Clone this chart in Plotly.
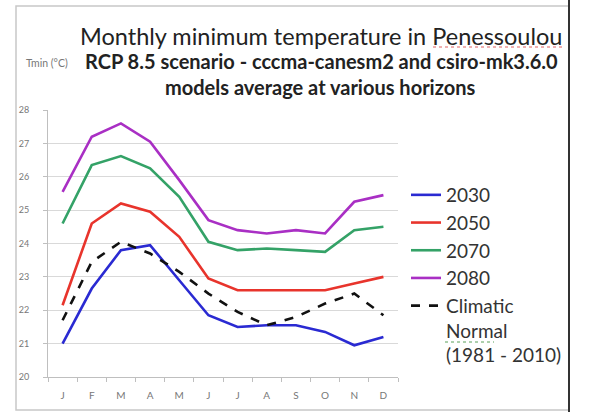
import plotly.graph_objects as go

# monthly minimum temperature (deg C)
months = ["J", "F", "M", "A", "M", "J", "J", "A", "S", "O", "N", "D"]
month_idx = list(range(1, 13))

t2030 = [21.0, 22.65, 23.8, 23.95, 22.9, 21.85, 21.5, 21.55, 21.55, 21.35, 20.95, 21.2]
t2050 = [22.15, 24.6, 25.2, 24.95, 24.2, 22.95, 22.6, 22.6, 22.62, 22.6, 22.8, 23.0]
t2070 = [24.6, 26.35, 26.62, 26.25, 25.4, 24.05, 23.8, 23.85, 23.8, 23.75, 24.4, 24.5]
t2080 = [25.55, 27.2, 27.6, 27.05, 25.9, 24.7, 24.4, 24.3, 24.4, 24.3, 25.25, 25.45]
normal = [21.7, 23.45, 24.05, 23.7, 23.15, 22.5, 21.95, 21.55, 21.8, 22.2, 22.5, 21.85]

series = [
    ("2030", t2030, "#2a2ad2", "solid"),
    ("2050", t2050, "#e8342c", "solid"),
    ("2070", t2070, "#34a267", "solid"),
    ("2080", t2080, "#a92fc4", "solid"),
    ("Climatic<br>Normal<br>(1981 - 2010)", normal, "#111111", "dash"),
]

W, H = 596, 412
L, R, T, B = 48, 398, 110, 377   # plot area in pixels


def px(x):
    return (x - L) / (R - L)


def py(y):
    return (B - y) / (B - T)


fig = go.Figure()
for name, vals, col, dash in series:
    fig.add_trace(go.Scatter(x=month_idx, y=vals, mode="lines", name=name,
                             line=dict(color=col, width=2.6, dash=dash)))

FONT = "Lato, Open Sans, sans-serif"
fig.update_layout(
    width=W, height=H,
    margin=dict(l=L, r=W - R, t=T, b=H - B, autoexpand=False),
    paper_bgcolor="white", plot_bgcolor="white",
    font=dict(family=FONT, color="#222222"),
    showlegend=True,
    legend=dict(x=px(406), y=py(176), xanchor="left", yanchor="top",
                font=dict(size=19, color="#333333"), valign="top",
                tracegroupgap=0, itemwidth=30, bgcolor="rgba(0,0,0,0)"),
)
fig.update_xaxes(range=[0.5, 12.5], tickvals=month_idx, ticktext=months,
                 ticks="", showgrid=False, showline=True, linecolor="#bfbfbf",
                 linewidth=1, tickfont=dict(size=10, color="#777777"),
                 ticklabelstandoff=9,
                 minor=dict(tick0=0.5, dtick=1, ticks="outside", ticklen=4,
                            tickcolor="#bfbfbf", showgrid=False),
                 zeroline=False)
fig.update_yaxes(range=[20, 28], dtick=1, showgrid=True, gridcolor="#d9d9d9",
                 gridwidth=1, showline=True, linecolor="#bfbfbf", linewidth=1,
                 ticks="outside", ticklen=4, tickcolor="#bfbfbf",
                 ticklabelstandoff=12,
                 tickfont=dict(size=9, color="#777777"), zeroline=False)

# titles
fig.add_annotation(x=px(321), y=py(36), xref="paper", yref="paper",
                   xanchor="center", yanchor="middle",
                   text="Monthly minimum temperature in Penessoulou",
                   showarrow=False, font=dict(size=23.5, color="#222222"))
fig.add_annotation(x=px(321), y=py(61), xref="paper", yref="paper",
                   xanchor="center", yanchor="middle",
                   text="<b>RCP 8.5 scenario - cccma-canesm2 and csiro-mk3.6.0</b>",
                   showarrow=False, font=dict(size=20, color="#222222"))
fig.add_annotation(x=px(320), y=py(87), xref="paper", yref="paper",
                   xanchor="center", yanchor="middle",
                   text="<b>models average at various horizons</b>",
                   showarrow=False, font=dict(size=20, color="#222222"))
fig.add_annotation(x=px(24), y=py(63), xref="paper", yref="paper",
                   xanchor="left", yanchor="middle", text="Tmin (°C)",
                   showarrow=False, font=dict(size=10.5, color="#777777"))

# spell-check underlines visible in the source picture
fig.add_shape(type="line", xref="paper", yref="paper",
              x0=px(433), x1=px(562), y0=py(47), y1=py(47),
              line=dict(color="#e06060", width=1, dash="dot"))
fig.add_shape(type="line", xref="paper", yref="paper",
              x0=px(445), x1=px(494), y0=py(342), y1=py(342),
              line=dict(color="#5aa05a", width=1, dash="dot"))

# outer frame of the chart area
fig.add_shape(type="rect", xref="paper", yref="paper",
              x0=px(16), x1=px(569), y0=py(410), y1=py(6),
              line=dict(color="#c8c8c8", width=1.5), layer="below")
fig.add_shape(type="line", xref="paper", yref="paper",
              x0=px(569), x1=px(569), y0=py(412), y1=py(0),
              line=dict(color="#333333", width=2))

fig.write_html("out.html", config={"displayModeBar": False},
               post_script="document.body.style.margin='0';")
